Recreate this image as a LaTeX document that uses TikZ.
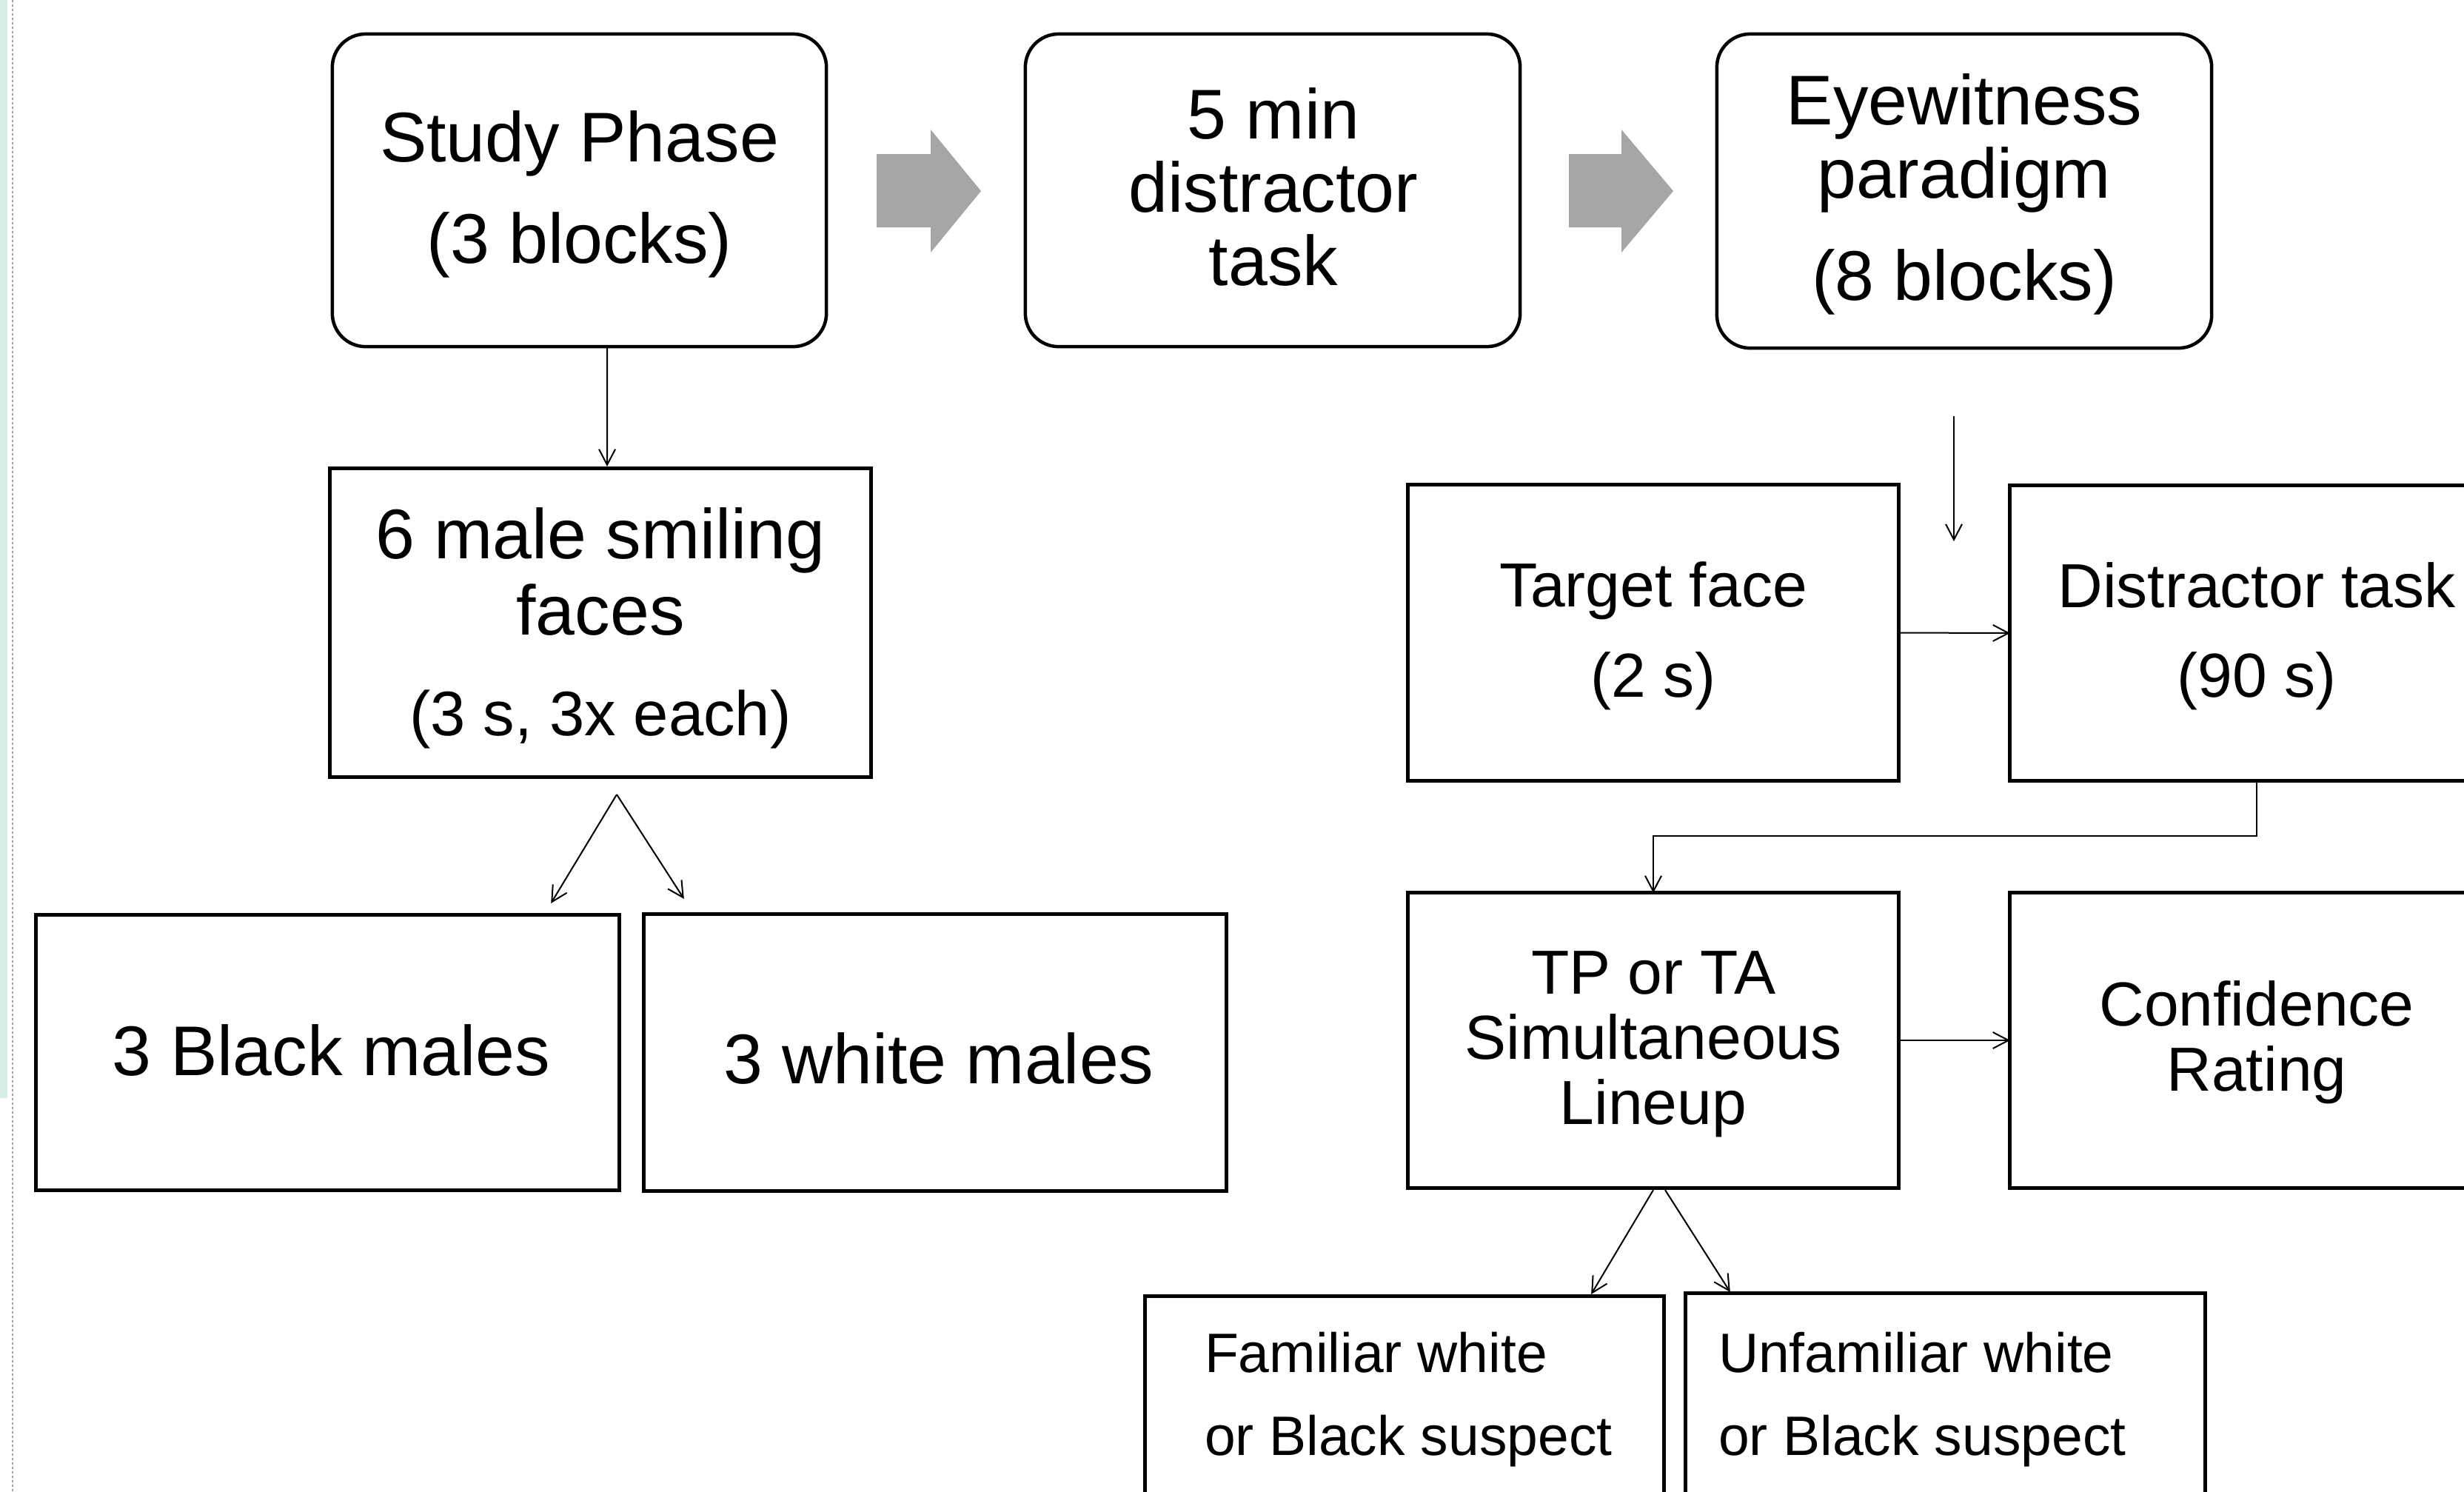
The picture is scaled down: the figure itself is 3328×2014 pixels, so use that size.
\documentclass[tikz,border=0pt]{standalone}
\usepackage{fontspec}
\setmainfont{Liberation Sans}
\usetikzlibrary{arrows.meta}
\definecolor{mint}{HTML}{D6EEE6}
\definecolor{blockgray}{HTML}{A6A6A6}
\definecolor{dashgray}{HTML}{A0A0A0}
\newcommand{\txtlines}[2]{\begin{tabular}[t]{@{}#1@{}}#2\end{tabular}}
\begin{document}
\begin{tikzpicture}[x=0.01cm,y=-0.01cm,
  box/.style={draw, line width=0.05cm, inner sep=0pt, outer sep=0pt},
  rbox/.style={box, line width=0.045cm, rounded corners=0.45cm},
  txt/.style={inner sep=0pt, outer sep=0pt, anchor=base},
  big/.style={font=\fontsize{0.95cm}{#1}\selectfont},
  mid/.style={font=\fontsize{0.84cm}{#1}\selectfont},
  small/.style={font=\fontsize{0.75cm}{#1}\selectfont},
  conn/.style={line width=0.02cm, -{Straight Barb[length=0.21cm,width=0.22cm,line width=0.02cm]}},
  blockarrow/.style={fill=blockgray, draw=none}]
\useasboundingbox (0,0) rectangle (3328,2014);
\clip (0,0) rectangle (3328,2014);
% left margin decoration
\fill[mint] (0,0) rectangle (10,1483);
\draw[dashgray, line width=0.02cm, dash pattern=on 0.03cm off 0.03cm] (17,0) -- (17,2014);

% top row
\node[rbox, minimum width=6.67cm, minimum height=4.22cm] (sp) at (782.5,257) {};
\node[txt, big=1.365cm] (sp-t) at (782.5,218.6) {\txtlines{c}{Study Phase\\(3 blocks)}};
\node[rbox, minimum width=6.68cm, minimum height=4.22cm] (dm) at (1719,257) {};
\node[txt, big=0.99cm] (dm-t) at (1720,187.5) {\txtlines{c}{5 min\\distractor\\task}};
\node[rbox, minimum width=6.68cm, minimum height=4.24cm] (ew) at (2653,258) {};
\node[txt, big=0.985cm] (ew-t) at (2653,168.6) {\txtlines{c}{Eyewitness\\paradigm\\[0.395cm](8 blocks)}};

% block arrows
\fill[blockarrow] (1184,208) -- (1257,208) -- (1257,175) -- (1325,258) -- (1257,341) -- (1257,307) -- (1184,307) -- cycle;
\fill[blockarrow] (2119,208) -- (2190,208) -- (2190,175) -- (2260,258) -- (2190,341) -- (2190,307) -- (2119,307) -- cycle;

% left branch
\node[box, minimum width=7.30cm, minimum height=4.16cm] (sm) at (811,841) {};
\node[txt, big=1.03cm] (sm-t) at (811,754) {\txtlines{c}{6 male smiling\\faces\\[0.33cm]\fontsize{0.85cm}{1.03cm}\selectfont(3 s, 3x each)}};
\node[box, minimum width=7.87cm, minimum height=3.71cm] (bm) at (442.5,1421.5) {};
\node[txt, big=1cm] (bm-t) at (447,1452) {3 Black males};
\node[box, minimum width=7.86cm, minimum height=3.73cm] (wm) at (1263,1421.5) {};
\node[txt, big=1cm] (wm-t) at (1268,1463) {3 white males};

\draw[conn] ([xshift=0.375cm]sp.south) -- ([xshift=0.09cm,yshift=0.03cm]sm.north);
\coordinate (va) at (833,1073);
\draw[conn] (va) -- ([xshift=3.015cm,yshift=0.16cm]bm.north);
\draw[conn] (va) -- ([xshift=-3.39cm,yshift=0.21cm]wm.north);

% right branch
\coordinate (ewa) at (2639,562);
\coordinate (ewb) at (2639,731);
\draw[conn] (ewa) -- (ewb);
\node[box, minimum width=6.62cm, minimum height=3.99cm] (tf) at (2233,854.5) {};
\node[txt, mid=1.225cm] (tf-t) at (2233,819) {\txtlines{c}{Target face\\(2 s)}};
\node[box, minimum width=6.66cm, minimum height=3.98cm] (dt) at (3048,855) {};
\node[txt, mid=1.21cm] (dt-t) at (3048,820) {\txtlines{c}{Distractor task\\(90 s)}};
\draw[conn] (tf.east) -- (dt.west);

\node[box, minimum width=6.62cm, minimum height=3.98cm] (tp) at (2233,1405) {};
\node[txt, mid=0.88cm] (tp-t) at (2233,1342) {\txtlines{c}{TP or TA\\Simultaneous\\Lineup}};
\node[box, minimum width=6.66cm, minimum height=3.98cm] (cr) at (3048,1405) {};
\node[txt, mid=0.88cm] (cr-t) at (3048,1385) {\txtlines{c}{Confidence\\Rating}};
\draw[conn] (tp.east) -- (cr.west);
\draw[conn] (dt.south) -- ++(0,75) -| (tp.north);

\node[box, minimum width=7.00cm, minimum height=4.00cm] (fs) at (1897,1951) {};
\node[txt, small=1.12cm, anchor=base west] (fs-t) at (1627,1853) {\txtlines{l}{Familiar white\\or Black suspect}};
\node[box, minimum width=7.01cm, minimum height=4.00cm] (us) at (2627.5,1947) {};
\node[txt, small=1.12cm, anchor=base west] (us-t) at (2321,1853) {\txtlines{l}{Unfamiliar white\\or Black suspect}};
\draw[conn] ([yshift=-0.03cm]tp.south) -- ([xshift=2.52cm,yshift=0.03cm]fs.north);
\draw[conn] ([xshift=0.16cm,yshift=-0.03cm]tp.south) -- ([xshift=-2.905cm,yshift=0.02cm]us.north);
\end{tikzpicture}
\end{document}
